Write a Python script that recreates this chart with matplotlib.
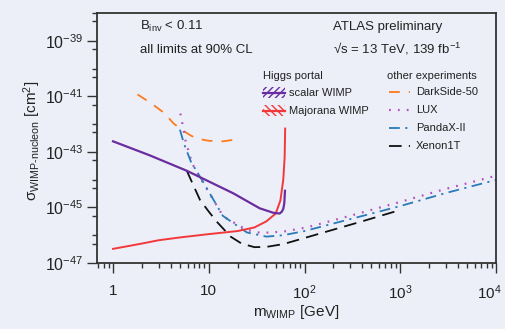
import numpy as np
import matplotlib
matplotlib.use("Agg")
import matplotlib.pyplot as plt
import matplotlib.transforms as mtransforms
from matplotlib.ticker import FixedLocator, FixedFormatter, NullFormatter
from matplotlib.patches import Rectangle
from matplotlib.lines import Line2D

plt.rcParams['font.family'] = ['Liberation Sans', 'DejaVu Sans']
plt.rcParams['mathtext.fontset'] = 'custom'
plt.rcParams['mathtext.rm'] = 'Liberation Sans'
plt.rcParams['mathtext.it'] = 'Liberation Sans:italic'
plt.rcParams['mathtext.default'] = 'regular'
plt.rcParams['hatch.linewidth'] = 1.0

BG = '#edeff8'
INK = '#222222'

# Higgs portal limits (log10 of cross-section)
scalar_m = [1, 2.4, 5.9, 18, 34, 47, 55, 58, 60, 61.5, 62.5]
scalar_s = [-42.62, -43.12, -43.68, -44.49, -45.03, -45.19, -45.22, -45.15, -45.05, -44.85, -44.4]

majorana_m = [1, 1.5, 2, 3, 5, 10, 20, 30, 40, 50, 56, 60, 62, 62.8]
majorana_s = [-46.49, -46.38, -46.3, -46.18, -46.08, -45.96, -45.85, -45.72, -45.5, -45.22, -44.75, -44.0, -43.2, -42.16]

# direct detection experiments
ds50_m = [1.8, 2.5, 3.4, 4.3, 5.3, 6.4, 7.5, 10, 14, 17, 20]
ds50_s = [-40.93, -41.25, -41.59, -41.98, -42.22, -42.4, -42.52, -42.6, -42.62, -42.58, -42.5]

lux_m = [5.05, 5.3, 5.7, 6.7, 8.8, 14.2, 25, 35, 60, 105, 300, 1000, 3000, 10000]
lux_s = [-41.62, -41.98, -42.58, -43.42, -44.13, -45.33, -45.81, -45.92, -45.87, -45.72, -45.3, -44.8, -44.33, -43.86]

pandax_m = [5.0, 5.5, 6.5, 8.8, 14, 25, 40, 60, 100, 300, 1000, 3000, 10000]
pandax_s = [-42.2, -42.7, -43.35, -44.1, -45.3, -45.9, -46.05, -46.0, -45.85, -45.42, -44.95, -44.48, -44.01]

xenon_m = [5.9, 7, 8.1, 10, 12.1, 16.9, 22, 30, 40, 60, 100, 200, 400, 1000]
xenon_s = [-43.68, -44.25, -44.73, -45.15, -45.51, -46.05, -46.3, -46.43, -46.42, -46.32, -46.1, -45.8, -45.5, -45.09]

x_ticks = [1, 10, 100, 1000, 10000]
x_labels = ['1', '10', '$10^2$', '$10^3$', '$10^4$']
y_exps = [-47, -45, -43, -41, -39]

C_SCALAR = '#6a2c9e'
C_MAJ = '#f2383a'
C_DS = '#ff7a1a'
C_LUX = '#b34fbf'
C_PX = '#2a7ab8'
C_XE = '#111111'


def p(v):
    return 10.0 ** np.array(v)


fig = plt.figure(figsize=(5.06, 3.29), dpi=100, facecolor=BG)
ax = fig.add_axes([0.1917, 0.2006, 0.7885, 0.7599], facecolor=BG)
ax.set_xscale('log')
ax.set_yscale('log')

ax.plot(ds50_m, p(ds50_s), color=C_DS, lw=1.3, dashes=(6, 5))
ax.plot(lux_m, p(lux_s), color=C_LUX, lw=1.6, dashes=(0.8, 3.2), dash_capstyle='butt')
ax.plot(pandax_m, p(pandax_s), color=C_PX, lw=1.3, dashes=(6, 3, 1.2, 3))
ax.plot(xenon_m, p(xenon_s), color=C_XE, lw=1.3, dashes=(7, 4))
ax.plot(majorana_m, p(majorana_s), color=C_MAJ, lw=1.4)
ax.plot(scalar_m, p(scalar_s), color=C_SCALAR, lw=1.6)

ax.set_xlim(0.68, 1e4)
ax.set_ylim(1e-47, 1e-38)

ax.xaxis.set_major_locator(FixedLocator(x_ticks))
ax.xaxis.set_major_formatter(FixedFormatter(x_labels))
x_minor = [k * 10.0 ** d for d in range(-1, 4) for k in range(2, 10)]
ax.xaxis.set_minor_locator(FixedLocator(x_minor))
ax.xaxis.set_minor_formatter(NullFormatter())

ax.yaxis.set_major_locator(FixedLocator([10.0 ** e for e in y_exps]))
ax.yaxis.set_major_formatter(FixedFormatter(['$10^{%d}$' % e for e in y_exps]))
y_minor = [10.0 ** e for e in range(-46, -37, 2)] + [5 * 10.0 ** e for e in range(-47, -38)]
ax.yaxis.set_minor_locator(FixedLocator(y_minor))
ax.yaxis.set_minor_formatter(NullFormatter())

ax.tick_params(which='major', direction='out', length=7, width=1.0, color='#333333',
               labelsize=11.5, labelcolor=INK, pad=3)
ax.tick_params(which='minor', direction='out', length=3.5, width=1.0, color='#333333')
ax.tick_params(axis='x', which='major', labelsize=11, pad=8)
for s in ax.spines.values():
    s.set_color('#333333')
    s.set_linewidth(1.3)

ax.set_xlabel(r'm$_{\mathrm{WIMP}}$ [GeV]', fontsize=11, color=INK)
ax.xaxis.label.set_va('center')
ax.xaxis.set_label_coords(0.499, -0.196)
ax.set_ylabel(r'$\sigma_{\mathrm{WIMP\text{-}nucleon}}$ [cm$^2$]', fontsize=11, color=INK)
ax.yaxis.label.set_va('center')
ax.yaxis.set_label_coords(-0.163, 0.49)

tr = ax.transAxes
ax.text(0.108, 0.945, r'B$_{\mathrm{inv}}$ < 0.11', transform=tr, fontsize=9.5, va='center', color=INK)
ax.text(0.108, 0.851, 'all limits at 90% CL', transform=tr, fontsize=9.5, va='center', color=INK)
ax.text(0.592, 0.945, 'ATLAS preliminary', transform=tr, fontsize=9.5, va='center', color=INK)
ax.text(0.592, 0.855, '\u221as = 13 TeV, 139 fb$^{-1}$', transform=tr, fontsize=9.5,
        va='center', color=INK)

# legend, drawn by hand
ax.text(0.416, 0.748, 'Higgs portal', transform=tr, fontsize=8, va='center', color=INK)
ax.text(0.727, 0.748, 'other experiments', transform=tr, fontsize=8, va='center', color=INK)

hatch_rows = [('scalar WIMP', C_SCALAR, '/////', 0.68), ('Majorana WIMP', C_MAJ, '\\\\\\\\\\', 0.608)]
for name, col, h, yy in hatch_rows:
    ax.add_patch(Rectangle((0.416, yy - 0.022), 0.055, 0.044, transform=tr, facecolor='none',
                           edgecolor=col, hatch=h, lw=0))
    ax.add_line(Line2D([0.416, 0.471], [yy, yy], transform=tr, color=col, lw=1.6))
    ax.text(0.481, yy, name, transform=tr, fontsize=8, va='center', color=INK)

exp_rows = [('DarkSide-50', C_DS, (6, 5), 1.3), ('LUX', C_LUX, (0.8, 3.2), 1.6),
            ('PandaX-II', C_PX, (6, 3, 1.2, 3), 1.3), ('Xenon1T', C_XE, (7, 4, 1.2, 4), 1.3)]
for i, (name, col, d, w) in enumerate(exp_rows):
    yy = 0.684 - i * 0.072
    ax.add_line(Line2D([0.733, 0.785], [yy, yy], transform=tr, color=col, lw=w, dashes=d))
    ax.text(0.8, yy, name, transform=tr, fontsize=8, va='center', color=INK)

# pull the last x label in so it stays inside the figure
fig.canvas.draw()
last = ax.xaxis.get_major_ticks()[-1].label1
last.set_transform(last.get_transform() +
                   mtransforms.ScaledTranslation(-7 / 100, 0, fig.dpi_scale_trans))

fig.savefig('out.png', dpi=100, facecolor=BG)
